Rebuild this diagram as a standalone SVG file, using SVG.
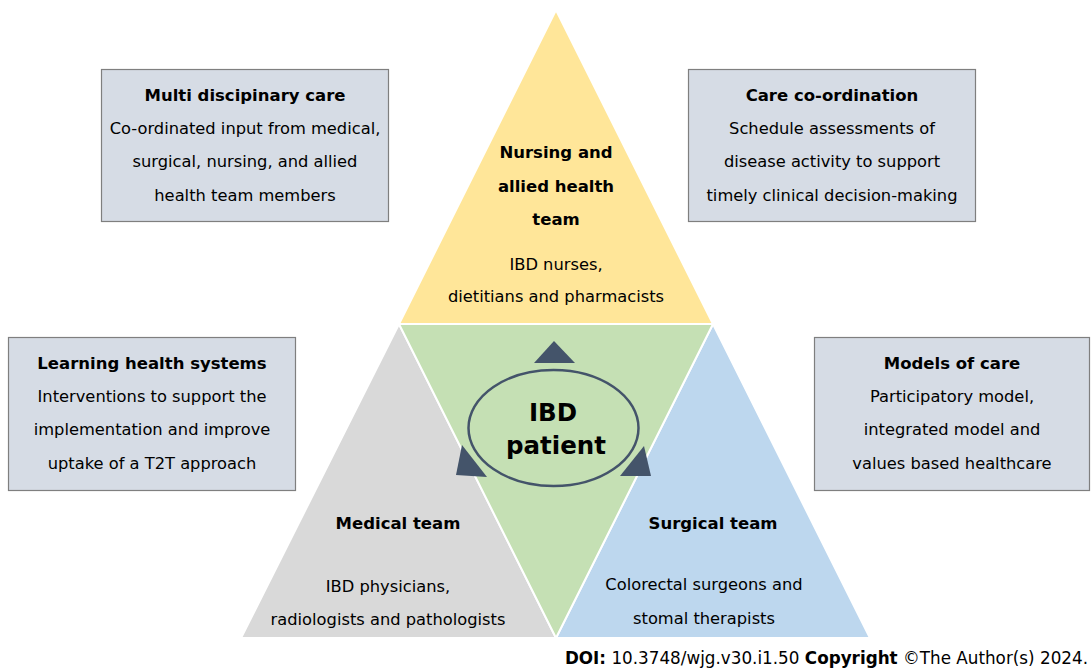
<svg xmlns="http://www.w3.org/2000/svg" width="1092" height="670" viewBox="0 0 1092 670">
<style>
.t{font-family:"DejaVu Sans","Liberation Sans",sans-serif;font-size:16.3px;fill:#000;text-anchor:middle}
.b{font-weight:bold;font-size:16.5px}
.box{fill:#D6DCE5;stroke:#7F7F7F;stroke-width:1.2}
.tri{stroke:#fff;stroke-width:2;stroke-linejoin:miter}
.arr{fill:#44546A}
</style>
<rect width="1092" height="670" fill="#fff"/>
<g id="nursing">
<polygon class="tri" fill="#FFE699" points="556,10 399,324 713,324"/>
<text class="t b" x="556" y="158">Nursing and</text>
<text class="t b" x="556" y="192">allied health</text>
<text class="t b" x="556" y="225">team</text>
<text class="t" x="556" y="270">IBD nurses,</text>
<text class="t" x="556" y="302">dietitians and pharmacists</text>
</g>
<g id="medical">
<polygon class="tri" fill="#D9D9D9" points="399,324 241,638 556,638"/>
<text class="t b" x="398" y="529">Medical team</text>
<text class="t" x="388" y="592">IBD physicians,</text>
<text class="t" x="388" y="625">radiologists and pathologists</text>
</g>
<g id="surgical">
<polygon class="tri" fill="#BDD7EE" points="713,324 556,638 870,638"/>
<text class="t b" x="713" y="529">Surgical team</text>
<text class="t" x="704" y="590">Colorectal surgeons and</text>
<text class="t" x="704" y="624">stomal therapists</text>
</g>
<g id="patient">
<polygon class="tri" fill="#C5E0B4" points="399,324 713,324 556,638"/>
<ellipse cx="553.5" cy="428" rx="85" ry="58" fill="none" stroke="#44546A" stroke-width="2.5"/>
<text class="t b" x="553" y="421" style="font-size:24.5px">IBD</text>
<text class="t b" x="556" y="454" style="font-size:24.5px">patient</text>
</g>
<g id="connectors">
<polygon class="arr" points="554,341 534,363 575,363"/>
<polygon class="arr" points="462,445 456,475 487,477"/>
<polygon class="arr" points="644,446 651,476 620,476"/>
</g>
<g id="multidisciplinary">
<rect class="box" x="101.5" y="69.5" width="287" height="152"/>
<text class="t b" x="245" y="101">Multi discipinary care</text>
<text class="t" x="245" y="134">Co-ordinated input from medical,</text>
<text class="t" x="245" y="167">surgical, nursing, and allied</text>
<text class="t" x="245" y="201">health team members</text>
</g>
<g id="coordination">
<rect class="box" x="688.5" y="69.5" width="287" height="152"/>
<text class="t b" x="832" y="101">Care co-ordination</text>
<text class="t" x="832" y="134">Schedule assessments of</text>
<text class="t" x="832" y="167">disease activity to support</text>
<text class="t" x="832" y="201">timely clinical decision-making</text>
</g>
<g id="learning">
<rect class="box" x="8.5" y="337.5" width="287" height="153"/>
<text class="t b" x="152" y="369">Learning health systems</text>
<text class="t" x="152" y="402">Interventions to support the</text>
<text class="t" x="152" y="435">implementation and improve</text>
<text class="t" x="152" y="469">uptake of a T2T approach</text>
</g>
<g id="models">
<rect class="box" x="814.5" y="337.5" width="275" height="153"/>
<text class="t b" x="952" y="369">Models of care</text>
<text class="t" x="952" y="402">Participatory model,</text>
<text class="t" x="952" y="435">integrated model and</text>
<text class="t" x="952" y="469">values based healthcare</text>
</g>
<g id="footer">
<text class="t" x="1088" y="664" style="text-anchor:end;font-size:16.8px"><tspan font-weight="bold">DOI:</tspan> 10.3748/wjg.v30.i1.50 <tspan font-weight="bold">Copyright</tspan> ©The Author(s) 2024.</text>
</g>
</svg>
